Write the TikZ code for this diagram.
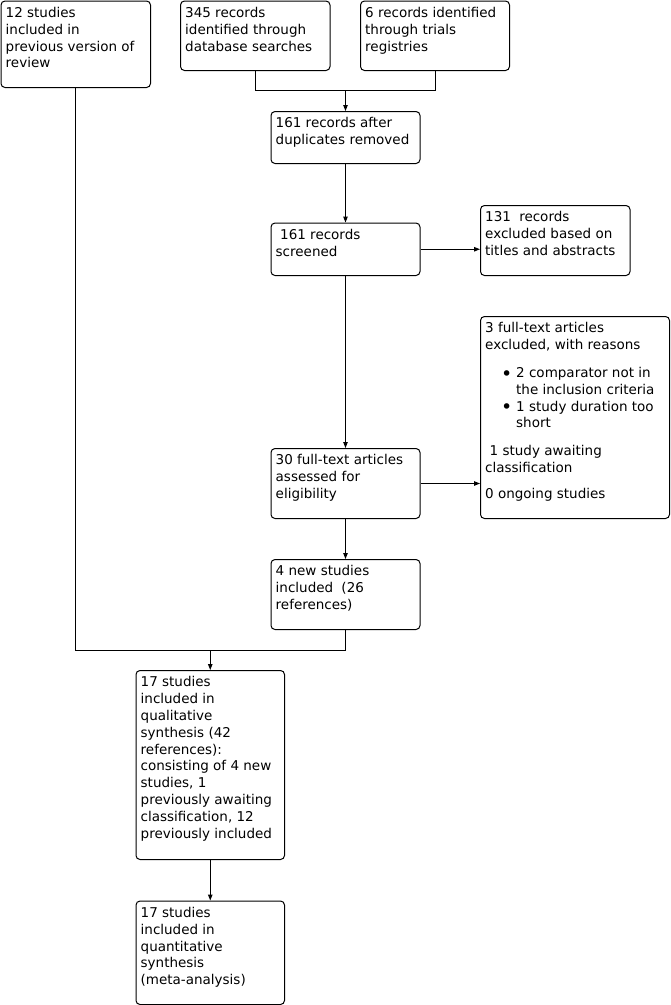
\documentclass[tikz,border=0pt]{standalone}
\usepackage{fontspec}
\setmainfont{DejaVu Sans}
\usetikzlibrary{arrows.meta}
\tikzset{
  bx/.style={draw, line width=1pt, rounded corners=4pt, inner sep=0pt},
  tx/.style={inner sep=0pt, align=left, font=\fontsize{13.5}{16.8}\selectfont},
  arr/.style={line width=1pt, -{Triangle[length=6pt,width=4.5pt]}},
  ln/.style={line width=1pt}
}
\newcommand{\flowbox}[6]{%
  \node[bx, minimum width=#4pt, minimum height=#5pt, anchor=north west] (#1) at (#2,#3) {};
  \node[tx, anchor=north west] (#1t) at ([shift={(5,6.5)}]#1.north west) {#6};}
\newcommand{\bul}{\hspace*{16pt}\makebox[15pt][l]{\raisebox{-2.5pt}{\fontsize{19}{16.8}\selectfont\textbullet}}}
\begin{document}
\begin{tikzpicture}[x=1pt,y=-1pt]
\useasboundingbox (0,0) rectangle (671,1005);
\flowbox{A}{0.5}{0.5}{149.5}{86.5}{12 studies\\included in\\previous version of\\review}
\flowbox{B}{180}{0.5}{149.5}{69.5}{345 records\\identified through\\database searches}
\flowbox{C}{360}{0.5}{149}{69.5}{6 records identified\\through trials\\registries}
\flowbox{D}{270.5}{111}{149}{52}{161 records after\\duplicates removed}
\flowbox{E}{270.5}{222.5}{149}{52.5}{\hspace*{4.5pt}161 records\\screened}
\flowbox{F}{480}{205}{149.5}{70}{131\hspace*{4pt} records\\excluded based on\\titles and abstracts}
\flowbox{G}{480}{316}{189}{202}{3 full-text articles\\excluded, with reasons\\[11pt]
\bul 2 comparator not in\\\hspace*{31pt}the inclusion criteria\\
\bul 1 study duration too\\\hspace*{31pt}short\\[11pt]
\hspace*{4.5pt}1 study awaiting\\classification\\[9pt]
0 ongoing studies}
\flowbox{H}{270.5}{448}{149}{70}{30 full-text articles\\assessed for\\eligibility}
\flowbox{I}{270.5}{559}{149}{70}{4 new studies\\included\hspace*{4pt} (26\\references)}
\flowbox{J}{135.5}{670}{148.5}{189}{17 studies\\included in\\qualitative\\synthesis (42\\references):\\consisting of 4 new\\studies, 1\\previously awaiting\\classification, 12\\previously included}
\flowbox{K}{135.5}{900.5}{148.5}{103.5}{17 studies\\included in\\quantitative\\synthesis\\(meta-analysis)}
% merge of B and C
\coordinate (bc) at (B.south |- 0,90);
\coordinate (cc) at (C.south |- 0,90);
\coordinate (bcm) at (D.north |- 0,90);
\draw[ln] (B.south) -- (bc) -- (cc) -- (C.south);
\draw[arr] (bcm) -- (D.north);
\draw[arr] (D.south) -- (E.north);
\draw[arr] (E.east) -- (E.east -| F.west);
\draw[arr] (E.south) -- (H.north);
\draw[arr] (H.east) -- (H.east -| G.west);
\draw[arr] (H.south) -- (I.north);
% merge of A and I
\coordinate (am) at (A.south |- 0,650);
\coordinate (im) at (I.south |- 0,650);
\coordinate (jm) at (J.north |- 0,650);
\draw[ln] (A.south) -- (am) -- (im) -- (I.south);
\draw[arr] (jm) -- (J.north);
\draw[arr] (J.south) -- (K.north);
\end{tikzpicture}
\end{document}
